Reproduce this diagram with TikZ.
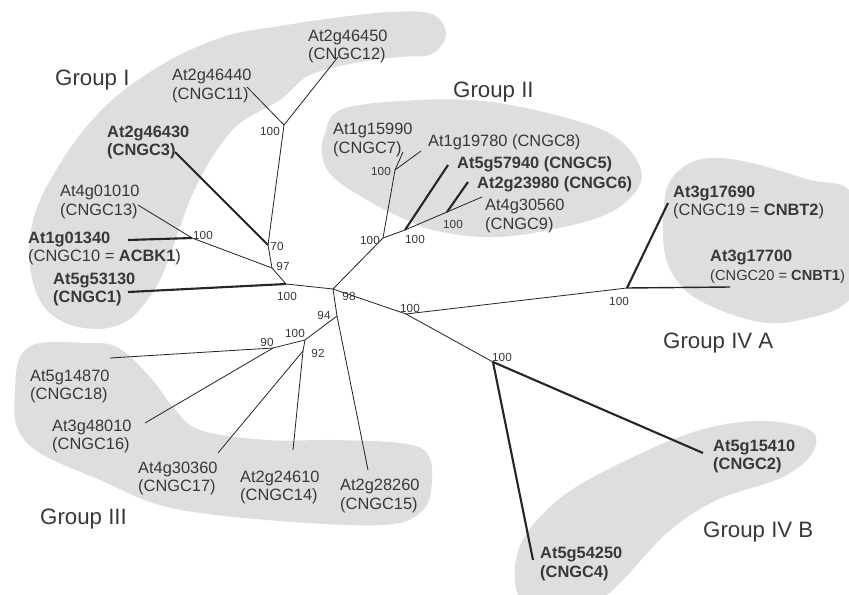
\documentclass[tikz,border=0pt]{standalone}
\usepackage{fontspec}
\setmainfont{Liberation Sans}
\usepackage{tikz}
\usetikzlibrary{positioning}

\definecolor{blobgray}{gray}{0.87}
\definecolor{linegray}{gray}{0.15}
\definecolor{textgray}{gray}{0.22}

\begin{document}
\begin{tikzpicture}[x=0.03cm, y=-0.03cm,
    gene/.style={anchor=west, inner sep=0pt, align=left, text=textgray, font=\fontsize{14}{16}\selectfont},
    genebold/.style={gene, font=\fontsize{14}{16}\selectfont\bfseries},
    boot/.style={inner sep=0pt, text=textgray, font=\fontsize{10}{10}\selectfont},
    grp/.style={anchor=west, inner sep=0pt, text=textgray, font=\fontsize{19}{19}\selectfont},
    branch/.style={draw=linegray, line width=0.7pt},
    strong/.style={draw=linegray, line width=1.8pt},
    blob/.style={fill=blobgray, draw=none}]
    \useasboundingbox (0,0) rectangle (849,595);

    % Shaded groups
    \fill[blob] plot[smooth cycle, tension=0.6] coordinates {(446,34) (432,14) (390,12) (333,18) (280,26) (233,34) (190,50) (150,72) (112,100) (82,132) (58,167) (38,205) (29,245) (33,282) (45,308) (68,324) (100,329) (127,321) (145,303) (160,280) (170,255) (180,227) (190,200) (203,173) (217,150) (240,123) (280,100) (310,75) (360,62) (400,57) (432,54)};
    \fill[blob] plot[smooth cycle, tension=0.6] coordinates {(325,133) (340,110) (400,101) (483,101) (567,118) (617,138) (641,170) (633,195) (600,217) (533,233) (483,237) (433,230) (400,217) (367,200) (333,177) (322,155)};
    \fill[blob] plot[smooth cycle, tension=0.6] coordinates {(20,357) (40,343) (83,343) (117,347) (150,377) (173,407) (200,430) (267,440) (333,440) (400,443) (427,453) (432,480) (423,510) (383,525) (267,520) (167,507) (100,480) (40,453) (17,427) (15,390)};
    \fill[blob] plot[smooth cycle, tension=0.6] coordinates {(663,227) (668,185) (690,163) (720,158) (760,165) (810,180) (849,190) (870,240) (849,300) (800,320) (760,322) (715,308) (685,290) (667,262)};
    \fill[blob] plot[smooth cycle, tension=0.6] coordinates {(810,430) (760,421) (700,430) (633,457) (567,493) (527,533) (515,567) (520,600) (540,612) (600,600) (667,533) (717,500) (783,477) (813,452)};

    % Inner nodes of the tree
    \coordinate (root) at (333,289);
    \coordinate (gI) at (286,284);
    \coordinate (c97) at (272,268);
    \coordinate (c70) at (268,245);
    \coordinate (c12) at (284,125);
    \coordinate (c13) at (192,238);
    \coordinate (gII) at (383,238);
    \coordinate (c7) at (395,170);
    \coordinate (c5) at (405,230);
    \coordinate (c9) at (447,212);
    \coordinate (c94) at (337,316);
    \coordinate (c16) at (305,340);
    \coordinate (c90) at (273,348);
    \coordinate (c92) at (303,351);
    \coordinate (gIV) at (406,314);
    \coordinate (gIVA) at (627,288);
    \coordinate (gIVB) at (493,362);

    % Branch tips
    \coordinate (e1) at (128,292);
    \coordinate (e10) at (128,240);
    \coordinate (e13) at (138,205);
    \coordinate (e3) at (175,152);
    \coordinate (e11) at (247,87);
    \coordinate (e12) at (338,57);
    \coordinate (e7) at (403,152);
    \coordinate (e8) at (421,151);
    \coordinate (e5) at (448,165);
    \coordinate (e6) at (468,182);
    \coordinate (e9) at (482,197);
    \coordinate (e18) at (110,358);
    \coordinate (e16) at (145,423);
    \coordinate (e17) at (218,453);
    \coordinate (e14) at (293,450);
    \coordinate (e15) at (368,470);
    \coordinate (e19) at (668,203);
    \coordinate (e20) at (730,287);
    \coordinate (e2) at (703,453);
    \coordinate (e4) at (533,560);

    % Branches
    \draw[branch] (root) -- (gI) -- (c97) -- (c70) -- (c12);
    \draw[branch] (c12) -- (e11);
    \draw[branch] (c12) -- (e12);
    \draw[strong] (c70) -- (e3);
    \draw[branch] (c97) -- (c13) -- (e13);
    \draw[strong] (c13) -- (e10);
    \draw[strong] (gI) -- (e1);
    \draw[branch] (root) -- (gII) -- (c7) -- (e7);
    \draw[branch] (c7) -- (e8);
    \draw[branch] (gII) -- (c5) -- (c9) -- (e9);
    \draw[strong] (c5) -- (e5);
    \draw[strong] (c9) -- (e6);
    \draw[branch] (root) -- (c94) -- (c16) -- (c90) -- (e18);
    \draw[branch] (c90) -- (e16);
    \draw[branch] (c16) -- (c92) -- (e17);
    \draw[branch] (c92) -- (e14);
    \draw[branch] (c94) -- (e15);
    \draw[branch] (root) -- (gIV) -- (gIVA);
    \draw[strong] (gIVA) -- (e19);
    \draw[line width=1.2pt, linegray] (gIVA) -- (e20);
    \draw[branch] (gIV) -- (gIVB);
    \draw[strong] (gIVB) -- (e2);
    \draw[strong] (gIVB) -- (e4);

    % Gene names
    \node[gene] (n12) at (308,46.5) {At2g46450\\(CNGC12)};
    \node[gene] (n11) at (172,86) {At2g46440\\(CNGC11)};
    \node[genebold] (n3) at (107,142.5) {At2g46430\\(CNGC3)};
    \node[gene] (n13) at (60,202) {At4g01010\\(CNGC13)};
    \node[gene] (n10) at (28,248.5) {\textbf{At1g01340}\\(CNGC10 = \textbf{ACBK1})};
    \node[genebold] (n1) at (53,289.5) {At5g53130\\(CNGC1)};
    \node[gene] (n7) at (333,140) {At1g15990\\(CNGC7)};
    \node[gene] (n8) at (428,142) {At1g19780 (CNGC8)};
    \node[genebold] (n5) at (457,164) {At5g57940 (CNGC5)};
    \node[genebold] (n6) at (477,184) {At2g23980 (CNGC6)};
    \node[gene] (n9) at (485,216) {At4g30560\\(CNGC9)};
    \node[gene] (n19) at (673,202.5) {\textbf{At3g17690}\\(CNGC19 = \textbf{CNBT2})};
    \node[gene] (n20) at (710,267) {\textbf{At3g17700}\\{\fontsize{12.5}{16}\selectfont(CNGC20 = \textbf{CNBT1})}};
    \node[genebold] (n2) at (713,456.5) {At5g15410\\(CNGC2)};
    \node[genebold] (n4) at (540,564) {At5g54250\\(CNGC4)};
    \node[gene] (n18) at (30,386.5) {At5g14870\\(CNGC18)};
    \node[gene] (n16) at (52,436.5) {At3g48010\\(CNGC16)};
    \node[gene] (n17) at (138,478.5) {At4g30360\\(CNGC17)};
    \node[gene] (n14) at (240,487.5) {At2g24610\\(CNGC14)};
    \node[gene] (n15) at (340,496) {At2g28260\\(CNGC15)};

    % Bootstrap values
    \node[boot] (b12) at (270,131) {100};
    \node[boot] (b70) at (277,246) {70};
    \node[boot] (b97) at (283,266) {97};
    \node[boot] (b13) at (203,235) {100};
    \node[boot] (bI) at (287,296) {100};
    \node[boot] (b98) at (349,296) {98};
    \node[boot] (bII) at (370,240) {100};
    \node[boot] (b7) at (381,171) {100};
    \node[boot] (b5) at (415,239) {100};
    \node[boot] (b9) at (453,224) {100};
    \node[boot] (b94) at (324,315) {94};
    \node[boot] (b16) at (295,333) {100};
    \node[boot] (b90) at (267,342) {90};
    \node[boot] (b92) at (318,353) {92};
    \node[boot] (bIV) at (410,308) {100};
    \node[boot] (bIVA) at (619,301) {100};
    \node[boot] (bIVB) at (502,357) {100};

    % Group names
    \node[grp] (grpI) at (55,80) {Group I};
    \node[grp] (grpII) at (453,92) {Group II};
    \node[grp] (grpIII) at (40,519) {Group III};
    \node[grp] (grpIVA) at (663,343) {Group IV A};
    \node[grp] (grpIVB) at (703,532) {Group IV B};
\end{tikzpicture}
\end{document}
